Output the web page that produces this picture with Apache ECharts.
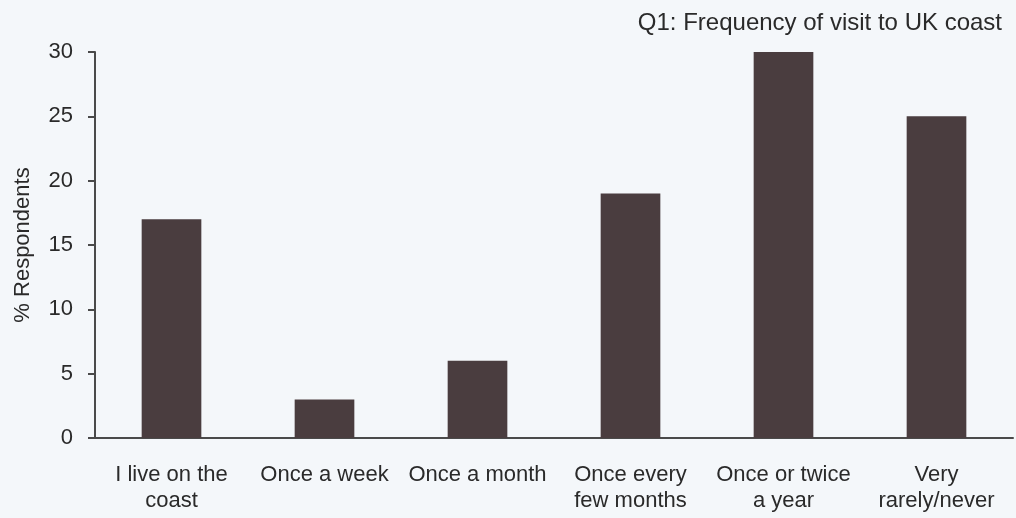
<!DOCTYPE html>
<html>
<head>
<meta charset="utf-8">
<script src="https://cdn.jsdelivr.net/npm/echarts@6/dist/echarts.min.js"></script>
<style>
html, body { margin: 0; padding: 0; background: #f4f7fa; }
#chart { width: 1016px; height: 518px; }
</style>
</head>
<body>
<div id="chart"></div>
<script>
// data
const categories = ['I live on the\ncoast', 'Once a week', 'Once a month', 'Once every\nfew months', 'Once or twice\na year', 'Very\nrarely/never'];
const respondents = [17, 3, 6, 19, 30, 25];
const yTicks = [0, 5, 10, 15, 20, 25, 30];

var myChart = echarts.init(document.getElementById('chart'));

myChart.setOption({
    backgroundColor: '#f4f7fa',
    textStyle: { fontFamily: 'Liberation Sans, Arial, sans-serif' },
    title: {
        text: 'Q1: Frequency of visit to UK coast',
        right: 9,
        top: 6,
        textStyle: {
            fontSize: 24,
            fontWeight: 'normal',
            color: '#2a2a2a'
        }
    },
    grid: {
        left: 95,
        right: 3,
        top: 52,
        bottom: 80
    },
    xAxis: {
        type: 'category',
        data: categories,
        axisLine: { lineStyle: { color: '#4a4a4a', width: 2 } },
        axisTick: { length: 6, lineStyle: { color: '#4a4a4a', width: 2 } },
        axisLabel: {
            color: '#2a2a2a',
            fontSize: 22,
            lineHeight: 26,
            margin: 24,
            interval: 0
        }
    },
    yAxis: {
        type: 'value',
        min: yTicks[0],
        max: yTicks[yTicks.length - 1],
        interval: 5,
        name: '% Respondents',
        nameLocation: 'middle',
        nameGap: 61,
        nameTextStyle: { fontSize: 22, color: '#2a2a2a' },
        axisLine: { show: true, lineStyle: { color: '#4a4a4a', width: 2 } },
        axisTick: { show: true, length: 7, lineStyle: { color: '#4a4a4a', width: 2 } },
        axisLabel: { color: '#2a2a2a', fontSize: 22, margin: 22 },
        splitLine: { show: false }
    },
    series: [
        {
            type: 'bar',
            data: respondents,
            barWidth: '39%',
            itemStyle: { color: '#4a3d3f' }
        }
    ]
});
</script>
</body>
</html>
